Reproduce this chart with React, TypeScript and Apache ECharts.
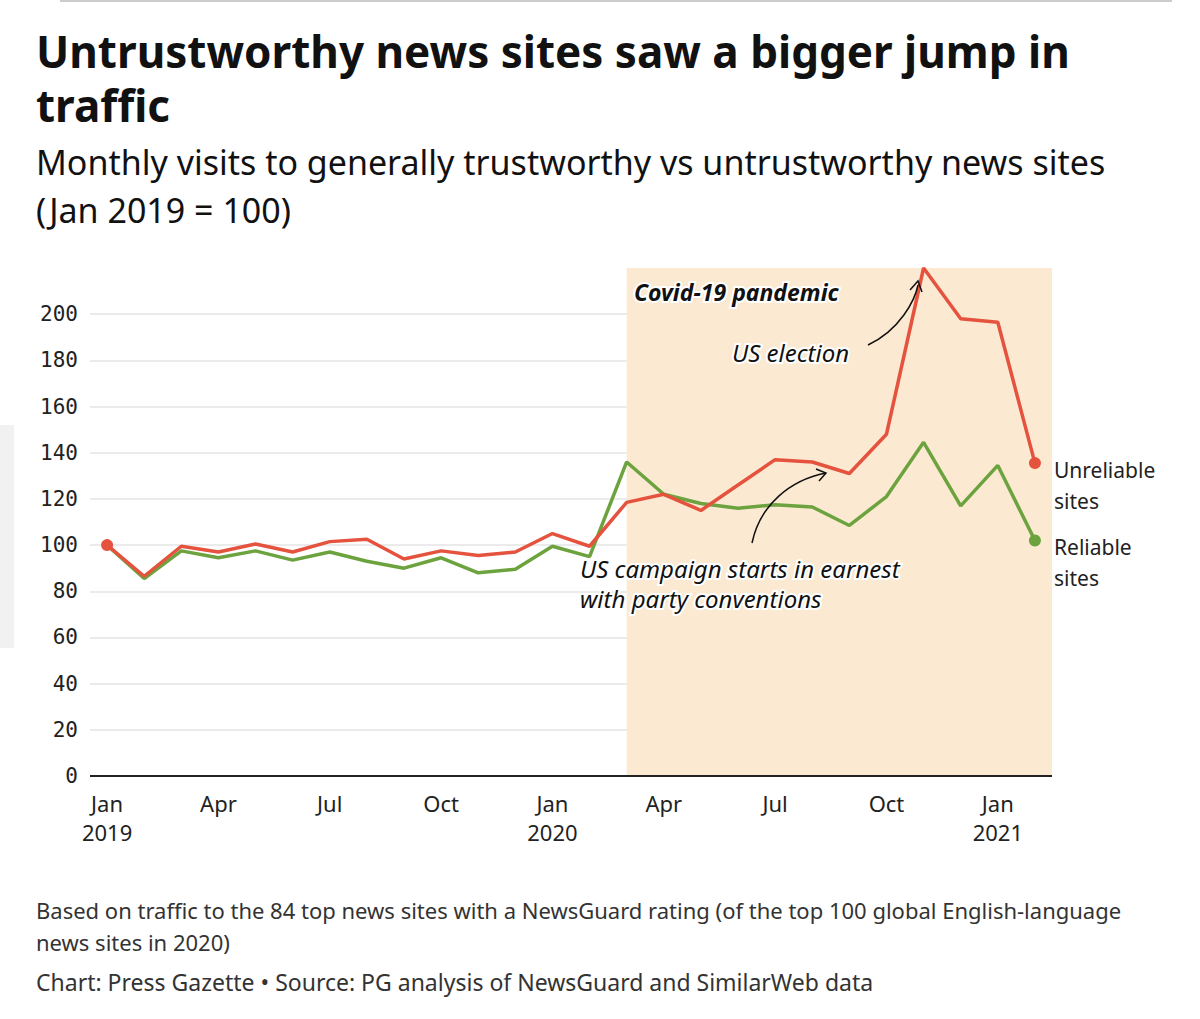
import React, { useEffect, useRef } from 'react';
import * as echarts from 'echarts';

const months = ['Jan', 'Feb', 'Mar', 'Apr', 'May', 'Jun', 'Jul', 'Aug', 'Sep', 'Oct', 'Nov', 'Dec'];
const tickIdx = [0, 3, 6, 9, 12, 15, 18, 21, 24];
const unreliable = [100, 86.5, 99.5, 97, 100.5, 97, 101.5, 102.5, 94, 97.5, 95.5, 97, 105, 99.5, 118.5, 122, 115, 126, 137, 136, 131, 148, 220, 198, 196.5, 135.5];
const reliable = [100, 85.5, 97.5, 94.5, 97.5, 93.5, 97, 93, 90, 94.5, 88, 89.5, 99.5, 95, 136, 122, 118, 116, 117.5, 116.5, 108.5, 121, 144.5, 117, 134.5, 102];
const covidRange = [14, 25.46];

const RED = '#e5533f';
const GREEN = '#6ca33e';
const FONT = 'Noto Sans';

export default function App() {
  const ref = useRef<HTMLDivElement>(null);
  useEffect(() => {
    if (!ref.current) return;
    const chart = echarts.init(ref.current, null, { renderer: 'svg' });
    const pts = (arr: number[]) => arr.map((v, i) => [i, v]);
    const lbl = (t: string, x: number, y: number, s: any = {}) => ({
      type: 'text', x, y, z: 100,
      style: { text: t, font: `italic 24px "${FONT}"`, fill: '#111', stroke: '#fff', lineWidth: 4, ...s },
    });
    chart.setOption({
      animation: false,
      backgroundColor: '#fff',
      grid: { left: 90, right: 148, top: 268, bottom: 243 },
      xAxis: {
        type: 'value', min: -0.46, max: 25.46,
        axisLine: { show: false }, axisTick: { show: false }, splitLine: { show: false },
        axisLabel: {
          customValues: tickIdx, color: '#222', fontFamily: FONT, fontSize: 22, lineHeight: 29, margin: 12,
          formatter: (v: number) => { const m = months[v % 12]; return m === 'Jan' ? `Jan\n${2019 + v / 12}` : m; },
        },
      },
      yAxis: {
        type: 'value', min: 0, max: 220, interval: 20,
        axisLine: { show: false }, axisTick: { show: false },
        splitLine: { showMaxLine: false, lineStyle: { color: '#e4e4e4', width: 1.5 } },
        axisLabel: {
          color: '#222', fontFamily: 'DejaVu Sans Mono', fontSize: 21, margin: 12, align: 'right',
          formatter: (v: number) => (v > 200 ? '' : String(v)),
        },
      },
      series: [
        {
          type: 'line', data: [[-0.46, 0], [25.46, 0]], symbol: 'none', silent: true, z: 5,
          lineStyle: { color: '#222', width: 2 },
          markArea: {
            silent: true, itemStyle: { color: '#fbe9d2' },
            data: [[{ xAxis: covidRange[0], yAxis: 0 }, { xAxis: covidRange[1], yAxis: 220 }]],
          },
        },
        {
          name: 'Reliable sites', type: 'line', data: pts(reliable), z: 3,
          lineStyle: { color: GREEN, width: 3.5 }, itemStyle: { color: GREEN },
          symbol: 'circle', symbolSize: (_: any, p: any) => (p.dataIndex === reliable.length - 1 ? 12 : 0),
        },
        {
          name: 'Unreliable sites', type: 'line', data: pts(unreliable), z: 4,
          lineStyle: { color: RED, width: 3.5 }, itemStyle: { color: RED },
          symbol: 'circle',
          symbolSize: (_: any, p: any) => (p.dataIndex === 0 || p.dataIndex === unreliable.length - 1 ? 12 : 0),
        },
      ],
      graphic: [
        { type: 'line', shape: { x1: 60, y1: 1, x2: 1172, y2: 1 }, style: { stroke: '#ccc', lineWidth: 2 } },
        { type: 'rect', shape: { x: 0, y: 425, width: 14, height: 223 }, style: { fill: '#f1f1f1' } },
        { type: 'text', x: 36, y: 24, style: { text: 'Untrustworthy news sites saw a bigger jump in\ntraffic', font: `bold 44px "${FONT}"`, lineHeight: 54, fill: '#111' } },
        { type: 'text', x: 36, y: 138, style: { text: 'Monthly visits to generally trustworthy vs untrustworthy news sites\n(Jan 2019 = 100)', font: `34px "${FONT}"`, lineHeight: 48, fill: '#111' } },
        { type: 'text', x: 36, y: 894, style: { text: 'Based on traffic to the 84 top news sites with a NewsGuard rating (of the top 100 global English-language\nnews sites in 2020)', font: `22px "${FONT}"`, lineHeight: 32, fill: '#333' } },
        { type: 'text', x: 36, y: 970, style: { text: 'Chart: Press Gazette • Source: PG analysis of NewsGuard and SimilarWeb data', font: `23px "${FONT}"`, fill: '#333' } },
        { type: 'text', x: 1054, y: 454, style: { text: 'Unreliable\nsites', font: `21px "${FONT}"`, lineHeight: 31, fill: '#222' } },
        { type: 'text', x: 1054, y: 531, style: { text: 'Reliable\nsites', font: `21px "${FONT}"`, lineHeight: 31, fill: '#222' } },
        lbl('Covid-19 pandemic', 634, 280, { font: `italic bold 23px "${FONT}"` }),
        lbl('US election', 732, 340),
        lbl('US campaign starts in earnest\nwith party conventions', 580, 553, { lineHeight: 30 }),
        { type: 'bezierCurve', z: 101, shape: { x1: 868, y1: 345, x2: 918, y2: 285, cpx1: 900, cpy1: 330, cpx2: 915, cpy2: 300 }, style: { stroke: '#111', lineWidth: 1.5, fill: 'none' } },
        { type: 'polyline', z: 101, shape: { points: [[910, 290], [918, 281], [922, 292]] }, style: { stroke: '#111', lineWidth: 1.5, fill: 'none' } },
        { type: 'bezierCurve', z: 101, shape: { x1: 752, y1: 543, x2: 826, y2: 473, cpx1: 760, cpy1: 505, cpx2: 790, cpy2: 480 }, style: { stroke: '#111', lineWidth: 1.5, fill: 'none' } },
        { type: 'polyline', z: 101, shape: { points: [[816, 469], [826, 473], [819, 481]] }, style: { stroke: '#111', lineWidth: 1.5, fill: 'none' } },
      ],
    });
    return () => chart.dispose();
  }, []);
  return <div ref={ref} style={{ position: 'absolute', left: 0, top: 0, width: 1200, height: 1019 }} />;
}
